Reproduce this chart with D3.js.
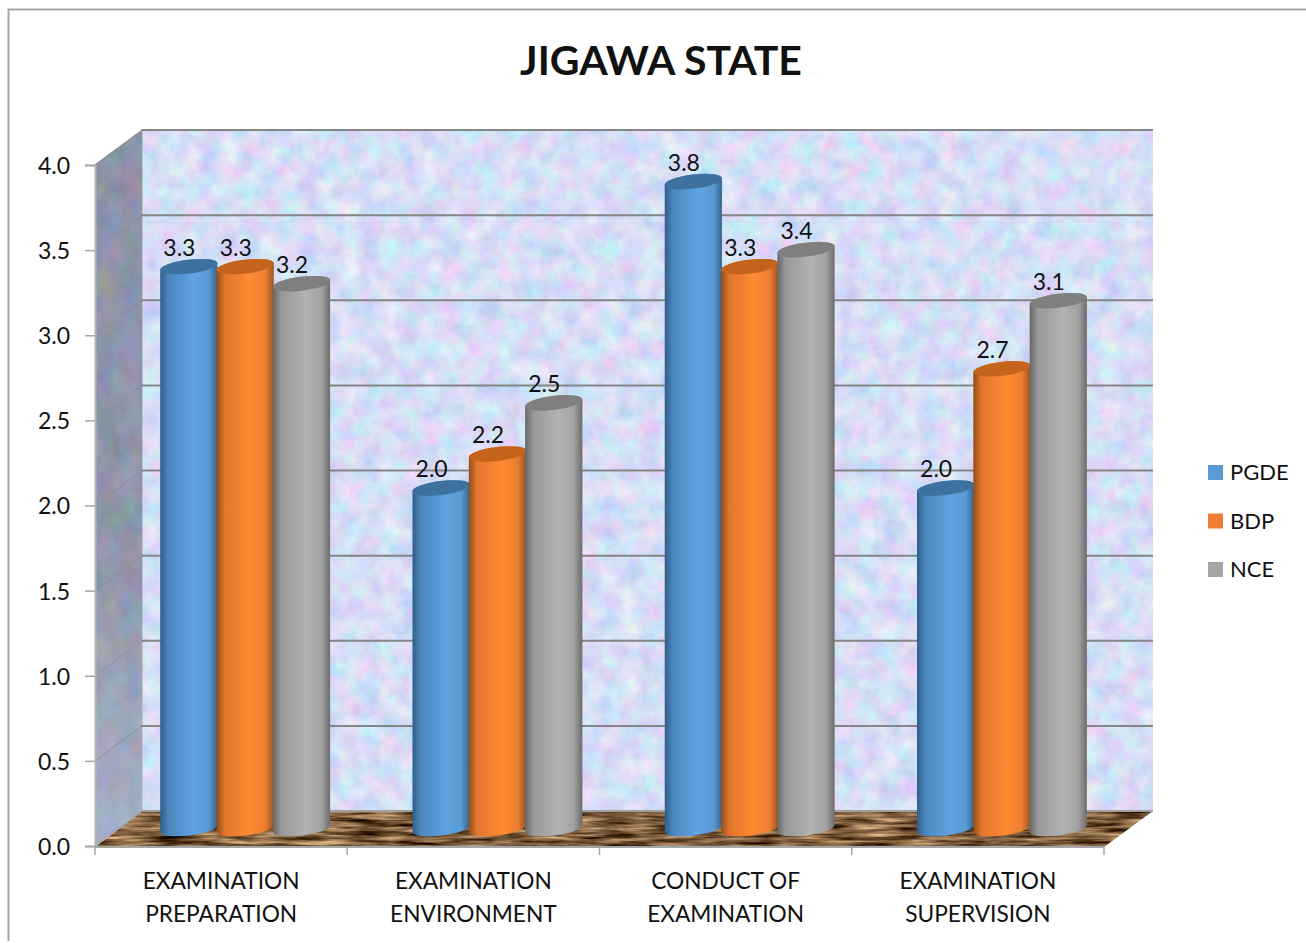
<!DOCTYPE html>
<html><head><meta charset="utf-8">
<script src="https://cdnjs.cloudflare.com/ajax/libs/d3/7.8.5/d3.min.js"></script>
<style>html,body{margin:0;padding:0;background:#fff;overflow:hidden}svg{display:block}text{font-family:Lato,Carlito,sans-serif;fill:#111}</style>
</head><body><div id="chart"></div>
<script>
const chartTitle = "JIGAWA STATE";
const categories = ["EXAMINATION PREPARATION","EXAMINATION ENVIRONMENT","CONDUCT OF EXAMINATION","EXAMINATION SUPERVISION"];
const categoryLines = [["EXAMINATION","PREPARATION"],["EXAMINATION","ENVIRONMENT"],["CONDUCT OF","EXAMINATION"],["EXAMINATION","SUPERVISION"]];
const seriesNames = ["PGDE","BDP","NCE"];
const pgde = [3.3,2.0,3.8,2.0];
const bdp  = [3.3,2.2,3.3,2.7];
const nce  = [3.2,2.5,3.4,3.1];
const yTicks = [0,0.5,1,1.5,2,2.5,3,3.5,4];
const seriesValues = [pgde,bdp,nce];
const seriesColors = ["#5b9bd5","#ed7d31","#a5a5a5"];
const gradStops = [
  ["#2f5d88","#4a86bd","#5ea3e2","#5a9ad4","#35648f"],
  ["#8f4e1c","#e0762c","#ff8a33","#ec7e30","#9a5520"],
  ["#666666","#989898","#b2b2b2","#a2a2a2","#6c6c6c"]];
const capColors = ["#3f719f","#c4631c","#7f7f7f"];

const W=1306,H=943, depthX=47.5, depthY=35;
const svg=d3.select("#chart").append("svg").attr("width",W).attr("height",H);
const x=d3.scaleBand().domain(categories).range([95,1104]);
const y=d3.scaleLinear().domain([0,4]).range([846,165]);
const inner=d3.scaleBand().domain(seriesNames).range([-84.5,84.5]);

const defs=svg.append("defs");
function texture(id,freq,oct,seed,mat){
  const f=defs.append("filter").attr("id",id).attr("x",0).attr("y",0).attr("width","100%").attr("height","100%")
    .attr("color-interpolation-filters","sRGB");
  f.append("feTurbulence").attr("type","fractalNoise").attr("baseFrequency",freq).attr("numOctaves",oct).attr("seed",seed).attr("result","n");
  f.append("feColorMatrix").attr("in","n").attr("type","matrix").attr("values",mat).attr("result","c");
  f.append("feComposite").attr("in","c").attr("in2","SourceAlpha").attr("operator","in");
}
texture("wallTex","0.05",5,7,"0.32 0 0 0 0.68  0 0.24 0 0 0.75  0 0 0.08 0 0.925  0 0 0 0 1");
texture("sideTex","0.05 0.03",4,3,"0.22 0 0 0 0.44  0 0.16 0 0 0.50  0 0 0.22 0 0.55  0 0 0 0 1");
texture("floorTex","0.02 0.22",4,11,"1.25 0 0 0 -0.14  1.12 0 0 0 -0.2  0.95 0 0 0 -0.24  0 0 0 0 1");

seriesNames.forEach((s,i)=>{
  const g=defs.append("linearGradient").attr("id","grad"+i).attr("x1",0).attr("x2",1).attr("y1",0).attr("y2",0);
  [0,0.14,0.58,0.85,1].forEach((o,k)=>g.append("stop").attr("offset",o).attr("stop-color",gradStops[i][k]));
});
const sg=defs.append("linearGradient").attr("id","sideFade").attr("x1",0).attr("x2",0).attr("y1",0).attr("y2",1);
sg.append("stop").attr("offset",0).attr("stop-color","#fff").attr("stop-opacity",0);
sg.append("stop").attr("offset",0.6).attr("stop-color","#fff").attr("stop-opacity",0.02);
sg.append("stop").attr("offset",1).attr("stop-color","#cfe0ff").attr("stop-opacity",0.35);

// chart frame
svg.append("path").attr("d",`M8.5,${H-2} V9.5 H${W}`).attr("fill","none").attr("stroke","#a6a6a6").attr("stroke-width",2);

// title
svg.append("text").attr("x",661).attr("y",75).attr("text-anchor","middle").attr("font-size",41).attr("font-weight",700).text(chartTitle);

// walls and floor
const y0=y(0),yT=y(4),xL=x.range()[0],xR=x.range()[1];
const poly=p=>"M"+p.map(d=>d.join(",")).join("L")+"Z";
svg.append("path").attr("d",poly([[xL+depthX,yT-depthY],[xR+depthX+1.5,yT-depthY],[xR+depthX+1.5,y0-depthY],[xL+depthX,y0-depthY]])).attr("filter","url(#wallTex)");
const sidePts=[[xL,yT],[xL+depthX,yT-depthY],[xL+depthX,y0-depthY],[xL,y0]];
svg.append("path").attr("d",poly(sidePts)).attr("filter","url(#sideTex)");
svg.append("path").attr("d",poly(sidePts)).attr("fill","url(#sideFade)");
svg.append("path").attr("d",poly([[xL,y0+1],[xL+depthX,y0-depthY],[xR+depthX+1.5,y0-depthY],[xR,y0+1]])).attr("filter","url(#floorTex)");

// gridlines on back wall and side wall
const grid=svg.append("g");
grid.selectAll("line.back").data(yTicks).join("line").attr("class","back")
  .attr("x1",xL+depthX-1).attr("x2",xR+depthX+1.5).attr("y1",d=>y(d)-depthY).attr("y2",d=>y(d)-depthY)
  .attr("stroke",d=>d===0?"#a0a0a0":"#858585").attr("stroke-width",2);
grid.selectAll("line.side").data(yTicks).join("line").attr("class","side")
  .attr("x1",xL).attr("x2",xL+depthX).attr("y1",d=>y(d)).attr("y2",d=>y(d)-depthY)
  .attr("stroke","#8a8a8a").attr("stroke-opacity",d=>d===4?1:0.45).attr("stroke-width",1.5);

// axes
const yAxis=d3.axisLeft(y).tickValues(yTicks).tickFormat(d3.format(".1f")).tickSize(10).tickPadding(15);
const ya=svg.append("g").attr("transform",`translate(${xL},0)`).call(yAxis);
ya.select(".domain").attr("stroke","#b5b5b5").attr("stroke-width",2);
ya.selectAll(".tick line").attr("stroke","#a6a6a6").attr("stroke-width",1.5);
ya.selectAll(".tick text").attr("font-size",23).attr("font-family","Lato").attr("y",1);
svg.append("line").attr("x1",xL-1).attr("x2",xR).attr("y1",y0+1).attr("y2",y0+1).attr("stroke","#a6a6a6").attr("stroke-width",2);
const xEdges=categories.map(c=>x(c)).concat(xR);
svg.selectAll("line.xt").data(xEdges).join("line").attr("class","xt")
  .attr("x1",d=>d).attr("x2",d=>d).attr("y1",y0).attr("y2",y0+9).attr("stroke","#a6a6a6").attr("stroke-width",1.5);
const xl=svg.selectAll("text.cat").data(categories).join("text").attr("class","cat")
  .attr("x",d=>x(d)+x.bandwidth()/2).attr("text-anchor","middle").attr("font-size",22.7);
xl.selectAll("tspan").data((d,i)=>categoryLines[i]).join("tspan")
  .attr("x",function(){return d3.select(this.parentNode).attr("x")})
  .attr("y",(d,i)=>888.5+i*33).text(d=>d);

// cylinders
const midX=depthX/2+0.3, midY=depthY/2, rx=28.6, tilt=3.5, ry=7;
const rot=Math.atan2(tilt,rx)*180/Math.PI, R=Math.hypot(rx,tilt);
const rows=[];
categories.forEach((c,ci)=>seriesNames.forEach((s,si)=>rows.push({c,s,si,v:seriesValues[si][ci]})));
const bars=svg.append("g").selectAll("g").data(rows).join("g")
  .attr("transform",d=>`translate(${x(d.c)+x.bandwidth()/2+inner(d.s)+inner.bandwidth()/2+midX},0)`);
bars.append("path").attr("fill",d=>`url(#grad${d.si})`).attr("d",d=>{
  const t=y(d.v)-midY,b=y(0)-midY;
  return `M${-rx},${t+tilt}A${R},${ry} ${-rot} 0 1 ${rx},${t-tilt}L${rx},${b-tilt}A${R},${ry} ${-rot} 0 1 ${-rx},${b+tilt}Z`;
});
bars.append("ellipse").attr("rx",R).attr("ry",ry).attr("fill",d=>capColors[d.si])
  .attr("transform",d=>`translate(0,${y(d.v)-midY}) rotate(${-rot})`);
bars.append("text").attr("x",-9.5).attr("y",d=>y(d.v)-midY-11).attr("text-anchor","middle").attr("font-size",23)
  .text(d=>d3.format(".1f")(d.v));

// legend
const legendY=d3.scalePoint().domain(seriesNames).range([472.5,569.5]);
const lg=svg.append("g").selectAll("g").data(seriesNames).join("g").attr("transform",d=>`translate(1208,${legendY(d)})`);
lg.append("rect").attr("y",-7.5).attr("width",15).attr("height",15).attr("fill",(d,i)=>seriesColors[i]);
lg.append("text").attr("x",22).attr("y",7.5).attr("font-size",22).text(d=>d);
</script></body></html>
